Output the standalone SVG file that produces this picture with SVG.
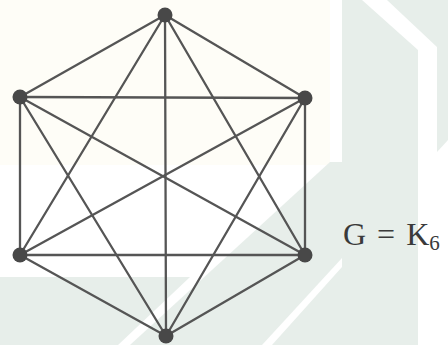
<svg xmlns="http://www.w3.org/2000/svg" width="448" height="345" viewBox="0 0 448 345">
<style>
.bg{fill:#e7eeea}
.e{stroke:#555;stroke-width:2.3;stroke-linecap:round}
.n{fill:#484848}
.t{font-family:"Liberation Serif","Times New Roman",serif;fill:#3a3a3a}
</style>
<rect width="448" height="345" fill="#ffffff"/>
<g id="watermark">
<rect x="0" y="0" width="330" height="165" fill="#fefdf7"/>
<polygon class="bg" points="342,0 362,0 418,50 418,345 272,345 342,267"/>
<polygon class="bg" points="387,0 448,0 448,140 437,152 437,47"/>
<polygon class="bg" points="0,277 190,277 118,345 0,345"/>
<polygon class="bg" points="330,162 342,162 342,258 262,345 130,345"/>
</g>
<g id="connectors">
<line class="e" x1="165" y1="15" x2="20" y2="97"/>
<line class="e" x1="165" y1="15" x2="305" y2="98"/>
<line class="e" x1="165" y1="15" x2="20" y2="255"/>
<line class="e" x1="165" y1="15" x2="305" y2="255"/>
<line class="e" x1="165" y1="15" x2="166" y2="336"/>
<line class="e" x1="20" y1="97" x2="305" y2="98"/>
<line class="e" x1="20" y1="97" x2="20" y2="255"/>
<line class="e" x1="20" y1="97" x2="305" y2="255"/>
<line class="e" x1="20" y1="97" x2="166" y2="336"/>
<line class="e" x1="305" y1="98" x2="20" y2="255"/>
<line class="e" x1="305" y1="98" x2="305" y2="255"/>
<line class="e" x1="305" y1="98" x2="166" y2="336"/>
<line class="e" x1="20" y1="255" x2="305" y2="255"/>
<line class="e" x1="20" y1="255" x2="166" y2="336"/>
<line class="e" x1="305" y1="255" x2="166" y2="336"/>
</g>
<g id="v1"><circle class="n" cx="165" cy="15" r="7.5"/></g>
<g id="v2"><circle class="n" cx="20" cy="97" r="7.5"/></g>
<g id="v3"><circle class="n" cx="305" cy="98" r="7.5"/></g>
<g id="v4"><circle class="n" cx="20" cy="255" r="7.5"/></g>
<g id="v5"><circle class="n" cx="305" cy="255" r="7.5"/></g>
<g id="v6"><circle class="n" cx="166" cy="336" r="7.5"/></g>
<g id="label">
<text class="t" x="343" y="245" font-size="32" word-spacing="3">G = K<tspan font-size="21" dy="5">6</tspan></text>
</g>
</svg>
